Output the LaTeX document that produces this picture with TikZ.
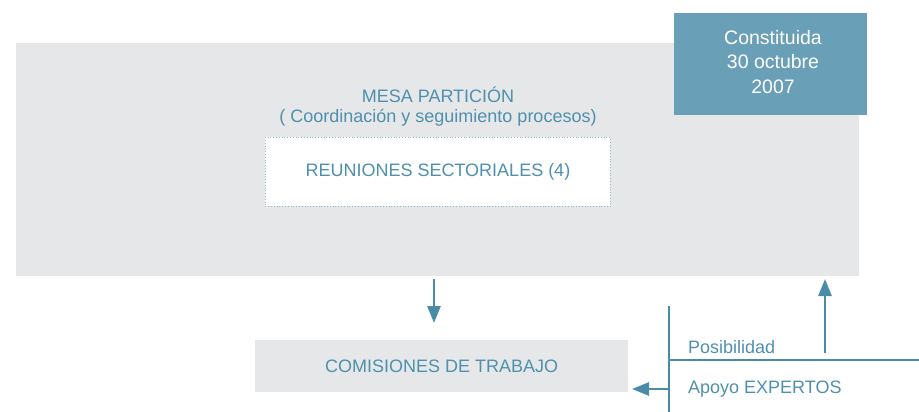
\documentclass[tikz,border=0pt]{standalone}
\usepackage{fontspec}
\setmainfont{Liberation Sans}
\usetikzlibrary{arrows.meta}
\definecolor{bgray}{HTML}{E6E7E8}
\definecolor{bblue}{HTML}{6A9FB8}
\definecolor{tblue}{HTML}{4F90AE}
\definecolor{lblue}{HTML}{4A8CA8}
\tikzset{
  x=1pt,y=-1pt,
  txt/.style={text=tblue,font=\fontsize{18}{20}\selectfont,inner sep=0pt},
  conn/.style={draw=lblue,line width=2.6pt},
  arr/.style={conn,-{Triangle[length=17pt,width=13pt]}},
}
\begin{document}
\begin{tikzpicture}
\useasboundingbox (0,0) rectangle (919,412);
\node[fill=bgray,minimum width=843pt,minimum height=233pt,inner sep=0pt,anchor=north west] (mesa) at (16,43) {};
\node[fill=bblue,minimum width=193pt,minimum height=102pt,inner sep=0pt,anchor=north west] (const) at (674,13) {};
\node[text=white,font=\fontsize{19.5}{24.5}\selectfont,align=center,inner sep=0pt] (consttxt) at (773,62) {Constituida\\30 octubre\\2007};
\node[txt] (title) at (438,95) {MESA PARTICIÓN};
\node[txt] (sub) at (438,118) {( Coordinación y seguimiento procesos)};
\node[fill=white,draw=lblue!60,dotted,line width=0.8pt,minimum width=345pt,minimum height=69pt,inner sep=0pt,anchor=north west] (reun) at (265,137) {};
\node[txt] at (reun.center) {REUNIONES SECTORIALES (4)};
\node[fill=bgray,minimum width=373pt,minimum height=52pt,inner sep=0pt,anchor=north west] (com) at (255,340) {};
\node[txt] at (com.center) {COMISIONES DE TRABAJO};
\coordinate (vtop) at (669,306);
\coordinate (vbot) at (669,412);
\coordinate (hl) at (669,360);
\coordinate (hr) at (919,360);
\coordinate (upbase) at (825,353);
\coordinate (uptip) at (825,279);
\coordinate (leftbase) at (669,389);
\coordinate (lefttip) at (632,389);
\coordinate (downbase) at (434,279);
\coordinate (downtip) at (434,323);
\draw[conn] (vtop) -- (vbot);
\draw[conn] (hl) -- (hr);
\draw[arr] (upbase) -- (uptip);
\draw[arr] (leftbase) -- (lefttip);
\draw[arr] (downbase) -- (downtip);
\node[txt,anchor=west] (pos) at (688,347) {Posibilidad};
\node[txt,anchor=west] (apoyo) at (688,389) {Apoyo EXPERTOS};
\end{tikzpicture}
\end{document}
